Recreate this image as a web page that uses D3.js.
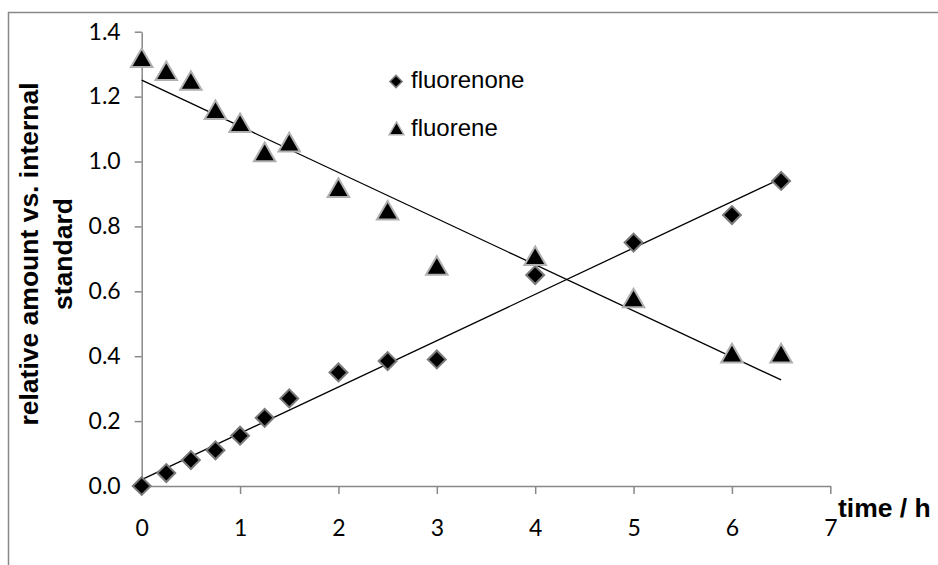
<!DOCTYPE html>
<html>
<head>
<meta charset="utf-8">
<script src="https://cdn.jsdelivr.net/npm/d3@7"></script>
<style>
  body { margin: 0; background: #fff; }
  svg { display: block; }
  .tick text { font-family: Lato, "Open Sans", sans-serif; font-size: 23px; fill: #000; }
</style>
</head>
<body>
<div id="chart"></div>
<script>
// data
const time = [0, 0.25, 0.5, 0.75, 1, 1.25, 1.5, 2, 2.5, 3, 4, 5, 6, 6.5];
const fluorenone = [0, 0.04, 0.08, 0.11, 0.155, 0.21, 0.27, 0.35, 0.385, 0.39, 0.65, 0.75, 0.835, 0.94];
const fluorene = [1.31, 1.27, 1.24, 1.15, 1.11, 1.02, 1.05, 0.91, 0.84, 0.67, 0.70, 0.57, 0.40, 0.40];
const xTicks = [0, 1, 2, 3, 4, 5, 6, 7];
const yTicks = [0, 0.2, 0.4, 0.6, 0.8, 1.0, 1.2, 1.4];
const seriesNames = ["fluorenone", "fluorene"];

const width = 938;
const height = 565;

const svg = d3.select("#chart").append("svg")
    .attr("width", width)
    .attr("height", height);

// outer chart frame (right and bottom sides fall outside the picture)
svg.append("rect")
    .attr("x", 8.5)
    .attr("y", 12.5)
    .attr("width", 1200)
    .attr("height", 1200)
    .attr("fill", "none")
    .attr("stroke", "#888")
    .attr("stroke-width", 1.5);

const x = d3.scaleLinear().domain([0, 7]).range([141.7, 830.3]);
const y = d3.scaleLinear().domain([0, 1.4]).range([486, 31.7]);

const xAxis = d3.axisBottom(x)
    .tickValues(xTicks)
    .tickFormat(d3.format("d"))
    .tickSizeInner(8)
    .tickSizeOuter(0)
    .tickPadding(26);

const yAxis = d3.axisLeft(y)
    .tickValues(yTicks)
    .tickFormat(d3.format(".1f"))
    .tickSizeInner(7)
    .tickSizeOuter(0)
    .tickPadding(14);

const gx = svg.append("g")
    .attr("transform", `translate(0,${y(0)})`)
    .call(xAxis);
const gy = svg.append("g")
    .attr("transform", `translate(${x(0)},0)`)
    .call(yAxis);

[gx, gy].forEach(g => {
  g.select(".domain").attr("stroke", "#888").attr("stroke-width", 1.5);
  g.selectAll(".tick line").attr("stroke", "#888").attr("stroke-width", 1.5);
});

// least squares trend lines
function linearFit(xs, ys) {
  const n = xs.length;
  const mx = d3.mean(xs);
  const my = d3.mean(ys);
  let sxy = 0, sxx = 0;
  for (let i = 0; i < n; i++) {
    sxy += (xs[i] - mx) * (ys[i] - my);
    sxx += (xs[i] - mx) * (xs[i] - mx);
  }
  const slope = sxy / sxx;
  return { slope: slope, intercept: my - slope * mx };
}

const tMin = d3.min(time);
const tMax = d3.max(time);

[fluorenone, fluorene].forEach(values => {
  const fit = linearFit(time, values);
  svg.append("line")
      .attr("x1", x(tMin))
      .attr("y1", y(fit.intercept + fit.slope * tMin))
      .attr("x2", x(tMax))
      .attr("y2", y(fit.intercept + fit.slope * tMax))
      .attr("stroke", "#000")
      .attr("stroke-width", 1.3);
});

const diamond = d3.symbol().type(d3.symbolSquare).size(160);
const triangle = d3.symbol().type(d3.symbolTriangle).size(200);

// fluorenone diamonds
svg.append("g").selectAll("path")
    .data(time)
    .join("path")
    .attr("d", diamond)
    .attr("transform", (d, i) => `translate(${x(d)},${y(fluorenone[i])}) rotate(45)`)
    .attr("fill", "#000")
    .attr("stroke", "#7a7a7a")
    .attr("stroke-width", 2);

// fluorene triangles
svg.append("g").selectAll("path")
    .data(time)
    .join("path")
    .attr("d", triangle)
    .attr("transform", (d, i) => `translate(${x(d)},${y(fluorene[i])})`)
    .attr("fill", "#000")
    .attr("stroke", "#b0b0b0")
    .attr("stroke-width", 2);

// legend
const legend = svg.append("g");
legend.append("path")
    .attr("d", d3.symbol().type(d3.symbolSquare).size(75))
    .attr("transform", "translate(396,81.5) rotate(45)")
    .attr("fill", "#000")
    .attr("stroke", "#7a7a7a")
    .attr("stroke-width", 1.5);
legend.append("path")
    .attr("d", d3.symbol().type(d3.symbolTriangle).size(95))
    .attr("transform", "translate(396.5,130.5)")
    .attr("fill", "#000")
    .attr("stroke", "#b0b0b0")
    .attr("stroke-width", 1.5);
legend.selectAll("text")
    .data(seriesNames)
    .join("text")
    .attr("x", 411)
    .attr("y", (d, i) => 88 + i * 48)
    .attr("font-family", "Liberation Sans, Arial, sans-serif")
    .attr("font-size", 24)
    .attr("fill", "#000")
    .text(d => d);

// axis titles
svg.append("text")
    .attr("x", 838)
    .attr("y", 517)
    .attr("font-family", "Liberation Sans, Arial, sans-serif")
    .attr("font-size", 26.5)
    .attr("font-weight", "bold")
    .text("time / h");

const yTitle = svg.append("text")
    .attr("transform", "translate(38,254) rotate(-90)")
    .attr("text-anchor", "middle")
    .attr("font-family", "Liberation Sans, Arial, sans-serif")
    .attr("font-size", 26.5)
    .attr("font-weight", "bold");
yTitle.append("tspan").attr("x", 0).attr("y", 0).text("relative amount vs. internal");
yTitle.append("tspan").attr("x", 0).attr("y", 34).text("standard");
</script>
</body>
</html>
